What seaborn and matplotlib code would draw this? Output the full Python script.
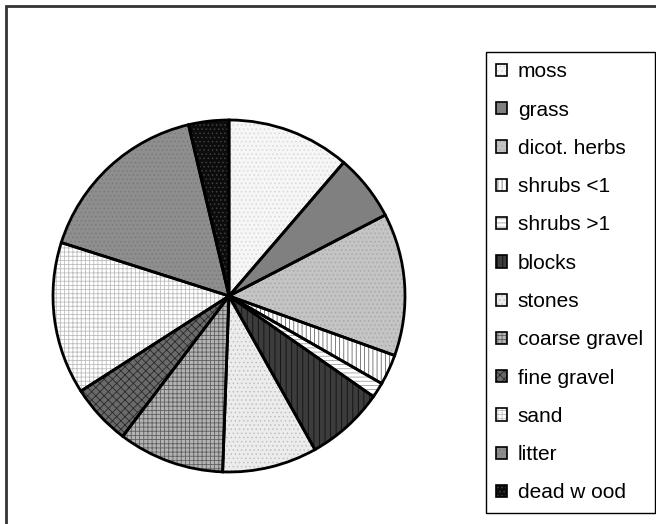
import matplotlib
matplotlib.use("Agg")
import matplotlib.pyplot as plt
from matplotlib.patches import Patch, Rectangle
import seaborn as sns

categories = ["moss", "grass", "dicot. herbs", "shrubs <1", "shrubs >1", "blocks",
              "stones", "coarse gravel", "fine gravel", "sand", "litter", "dead w ood"]
values = [11.3, 6.1, 13.1, 2.8, 1.4, 7.2, 8.7, 9.75, 5.6, 14.0, 16.4, 3.7]

face_colors = ["#f6f6f6", "#808080", "#c4c4c4", "#ffffff", "#ffffff", "#3c3c3c",
               "#ececec", "#b4b4b4", "#6a6a6a", "#ffffff", "#8e8e8e", "#0c0c0c"]
hatch_colors = ["#d8d8d8", "#707070", "#a8a8a8", "#6a6a6a", "#a0a0a0", "#101010",
                "#c0c0c0", "#606060", "#2a2a2a", "#bdbdbd", "#7a7a7a", "#404040"]
hatches = ["....", "", "....", "||||", "----", "|||",
           "....", "++++", "xxxx", "++++", "....", "...."]

sns.set_theme(style="white")
plt.rcParams["font.family"] = ["Liberation Sans", "DejaVu Sans"]
plt.rcParams["hatch.linewidth"] = 0.6
plt.rcParams["text.color"] = "black"

W, H = 656, 524
fig = plt.figure(figsize=(W / 100, H / 100), dpi=100)
ax = fig.add_axes([0, 0, 1, 1])

# fill layer
wedges, _ = ax.pie(values, startangle=90, counterclock=False,
                   center=(229, H - 296), radius=176,
                   colors=face_colors,
                   wedgeprops=dict(linewidth=0))
for w, h, hc in zip(wedges, hatches, hatch_colors):
    w.set_hatch(h)
    w.set_edgecolor(hc)
# outline layer
ax.pie(values, startangle=90, counterclock=False,
       center=(229, H - 296), radius=176,
       wedgeprops=dict(fill=False, edgecolor="black", linewidth=2))

ax.set_xlim(0, W)
ax.set_ylim(0, H)
ax.set_aspect("equal")
ax.axis("off")

# outer chart frame (right and bottom edges fall outside the image)
fig.patches.append(Rectangle((6 / W, -0.05), 1.1, 1.05 - 6 / H, transform=fig.transFigure,
                             fill=False, edgecolor="#333333", linewidth=2))

handles = []
for fc, h, hc in zip(face_colors, hatches, hatch_colors):
    handles.append((Patch(facecolor=fc, hatch=h, edgecolor=hc, linewidth=0),
                    Patch(fill=False, edgecolor="black", linewidth=1.2)))

leg = fig.legend(handles, categories, loc="upper left",
                 bbox_to_anchor=(486 / W, 0, 169 / W, 1 - 52 / H),
                 bbox_transform=fig.transFigure, mode="expand", borderaxespad=0,
                 fontsize=15, frameon=True, fancybox=False, shadow=False,
                 borderpad=0.5, labelspacing=0.925, handlelength=0.53,
                 handleheight=0.53, handletextpad=0.5)
leg.get_frame().set_edgecolor("black")
leg.get_frame().set_linewidth(1)
leg.get_frame().set_alpha(1)
for t in leg.get_texts():
    t.set_color("black")

fig.savefig("out.png", dpi=100)
